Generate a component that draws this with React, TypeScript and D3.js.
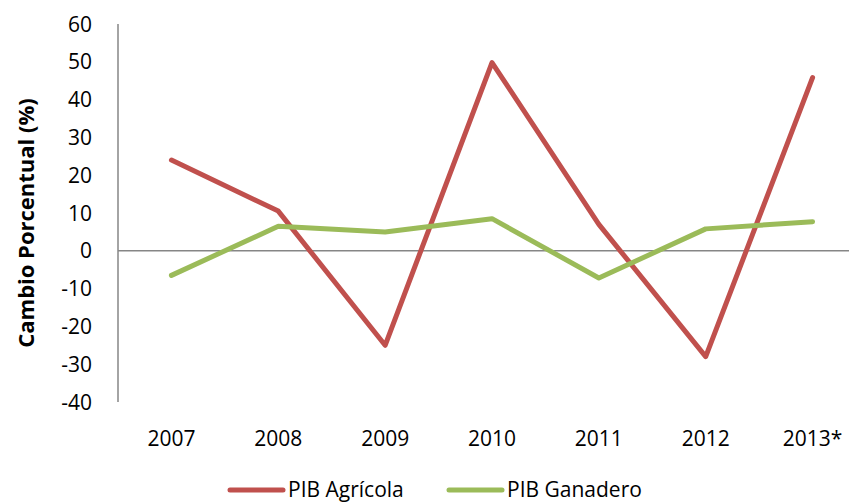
import React from "react";
import * as d3 from "d3";

const years = ["2007", "2008", "2009", "2010", "2011", "2012", "2013*"];
const agricola = [24, 10.5, -25, 49.8, 7, -28, 45.8];
const ganadero = [-6.5, 6.5, 5, 8.5, -7.2, 5.8, 7.7];
const yTicks = [-40, -30, -20, -10, 0, 10, 20, 30, 40, 50, 60];
const seriesNames = ["PIB Agrícola", "PIB Ganadero"];
const colors = ["#C0504D", "#9BBB59"];

export default function App() {
  const W = 851, H = 504;
  const left = 118, right = 866, top = 24, bottom = 402;
  const x = d3.scalePoint<string>().domain(years).range([left, right]).padding(0.5);
  const y = d3.scaleLinear().domain([-40, 60]).range([bottom, top]);
  const line = d3.line<number>().x((_, i) => x(years[i]) as number).y((d) => y(d));
  const font = "'Open Sans', sans-serif";
  const series = [agricola, ganadero];
  const legendX = [230, 449];
  return (
    <svg width={W} height={H} style={{ position: "absolute", left: 0, top: 0, background: "#fff" }} fontFamily={font}>
      <line x1={left} x2={849} y1={y(0)} y2={y(0)} stroke="#868686" strokeWidth={1.5} />
      <line x1={left} x2={left} y1={top} y2={bottom} stroke="#868686" strokeWidth={1.5} />
      {yTicks.map((t) => (
        <text key={t} x={92} y={y(t)} dy="0.36em" textAnchor="end" fontSize={21} fill="#000">{t}</text>
      ))}
      {years.map((yr) => (
        <text key={yr} x={x(yr)} y={438} dy="0.36em" textAnchor="middle" fontSize={21} fill="#000">{yr}</text>
      ))}
      <text transform={`translate(26,${(top + bottom) / 2 + 10}) rotate(-90)`} textAnchor="middle" dy="0.36em" fontSize={22} fontWeight="bold">Cambio Porcentual (%)</text>
      {series.map((s, i) => (
        <path key={i} d={line(s) || ""} fill="none" stroke={colors[i]} strokeWidth={5} strokeLinecap="round" strokeLinejoin="round" />
      ))}
      {seriesNames.map((n, i) => (
        <g key={n}>
          <line x1={legendX[i]} x2={legendX[i] + 53} y1={490} y2={490} stroke={colors[i]} strokeWidth={5} strokeLinecap="round" />
          <text x={legendX[i] + 58} y={489} dy="0.36em" fontSize={21}>{n}</text>
        </g>
      ))}
    </svg>
  );
}
